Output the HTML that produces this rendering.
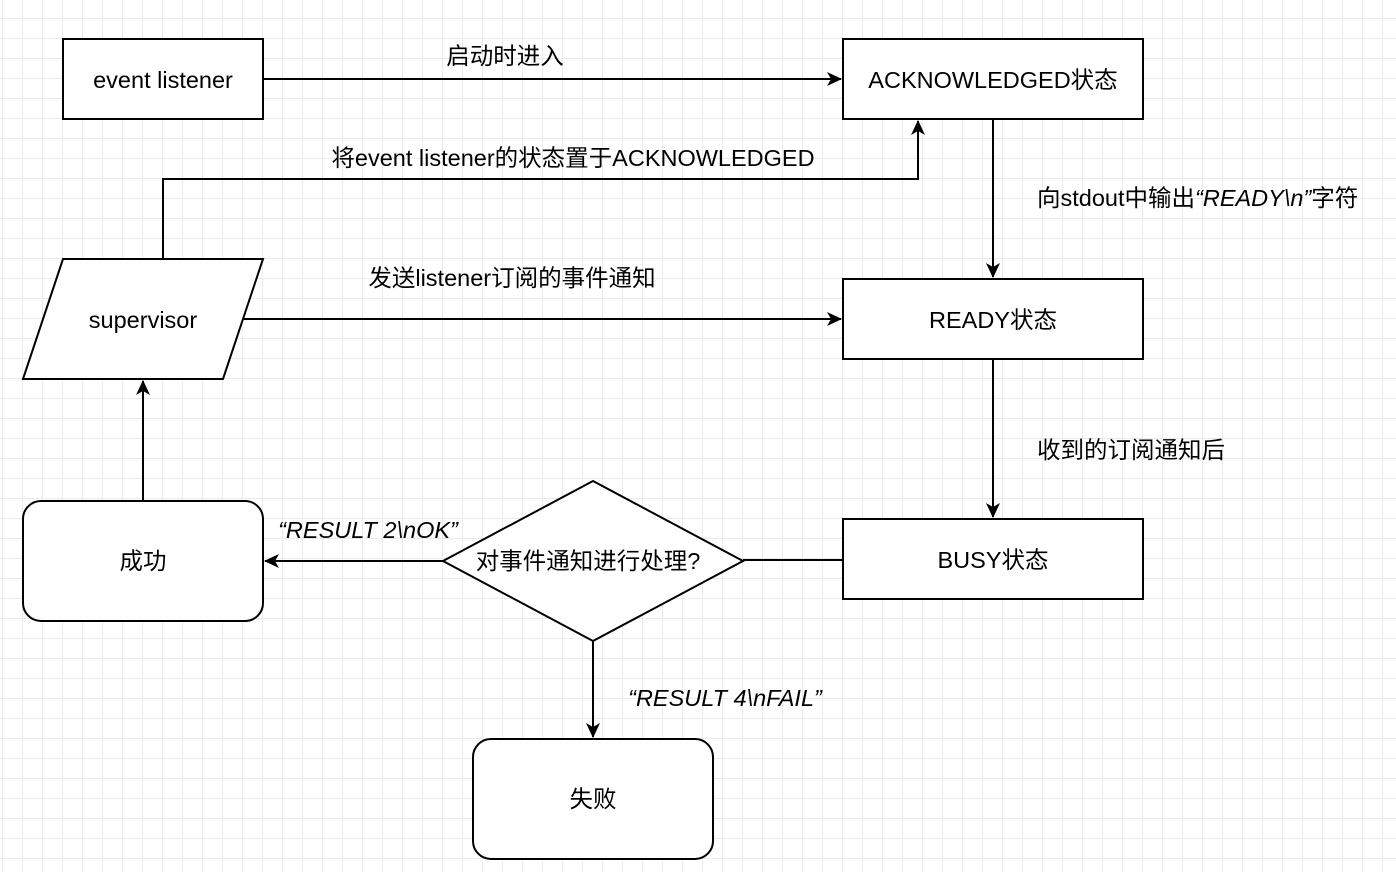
<!DOCTYPE html>
<html><head><meta charset="utf-8"><style>
html,body{margin:0;padding:0;}
body{width:1396px;height:872px;overflow:hidden;background-color:#fff;
background-image:linear-gradient(to right,#ebebeb 1px,transparent 1px),linear-gradient(to bottom,#ebebeb 1px,transparent 1px);
background-size:20px 20px;background-position:2px 18px;}
text{font-family:"Liberation Sans","Noto Sans CJK SC",sans-serif;font-size:23.5px;fill:#000;}
</style></head><body>
<svg width="1396" height="872" xmlns="http://www.w3.org/2000/svg" style="position:absolute;left:0;top:0">
<defs><marker id="a" markerWidth="16" markerHeight="16" refX="14" refY="8" orient="auto" markerUnits="userSpaceOnUse"><path d="M0,1 L15,8 L0,15 L4,8 Z" fill="#000"/></marker></defs>
<g stroke="#000" stroke-width="2" fill="none">
<line x1="263" y1="79" x2="841" y2="79" marker-end="url(#a)"/>
<polyline points="163,259 163,179 918,179 918,121" marker-end="url(#a)"/>
<line x1="243" y1="319" x2="841" y2="319" marker-end="url(#a)"/>
<line x1="993" y1="119" x2="993" y2="277" marker-end="url(#a)"/>
<line x1="993" y1="359" x2="993" y2="517" marker-end="url(#a)"/>
<line x1="843" y1="560" x2="743" y2="560"/>
<line x1="443" y1="561" x2="265" y2="561" marker-end="url(#a)"/>
<line x1="593" y1="641" x2="593" y2="737" marker-end="url(#a)"/>
<line x1="143" y1="501" x2="143" y2="381" marker-end="url(#a)"/>
</g>
<g stroke="#000" stroke-width="2" fill="#fff">
<rect x="63" y="39" width="200" height="80"/>
<rect x="843" y="39" width="300" height="80"/>
<rect x="843" y="279" width="300" height="80"/>
<rect x="843" y="519" width="300" height="80"/>
<polygon points="63,259 263,259 223,379 23,379"/>
<rect x="23" y="501" width="240" height="120" rx="18"/>
<rect x="473" y="739" width="240" height="120" rx="18"/>
<polygon points="593,481 743,561 593,641 443,561"/>
</g>
<g text-anchor="middle">
<text x="163" y="88">event listener</text>
<text x="993" y="88">ACKNOWLEDGED状态</text>
<text x="993" y="328">READY状态</text>
<text x="993" y="568">BUSY状态</text>
<text x="143" y="328">supervisor</text>
<text x="143" y="569">成功</text>
<text x="593" y="807">失败</text>
<text x="588" y="569">对事件通知进行处理?</text>
<text x="505" y="64">启动时进入</text>
<text x="573" y="166">将event listener的状态置于ACKNOWLEDGED</text>
<text x="512" y="286">发送listener订阅的事件通知</text>
<text x="368" y="538" font-style="italic">“RESULT 2\nOK”</text>
<text x="725" y="706" font-style="italic">“RESULT 4\nFAIL”</text>
</g>
<text x="1037" y="206">向stdout中输出<tspan font-style="italic">“READY\n”</tspan>字符</text>
<text x="1037" y="458">收到的订阅通知后</text>
</svg>
</body></html>
